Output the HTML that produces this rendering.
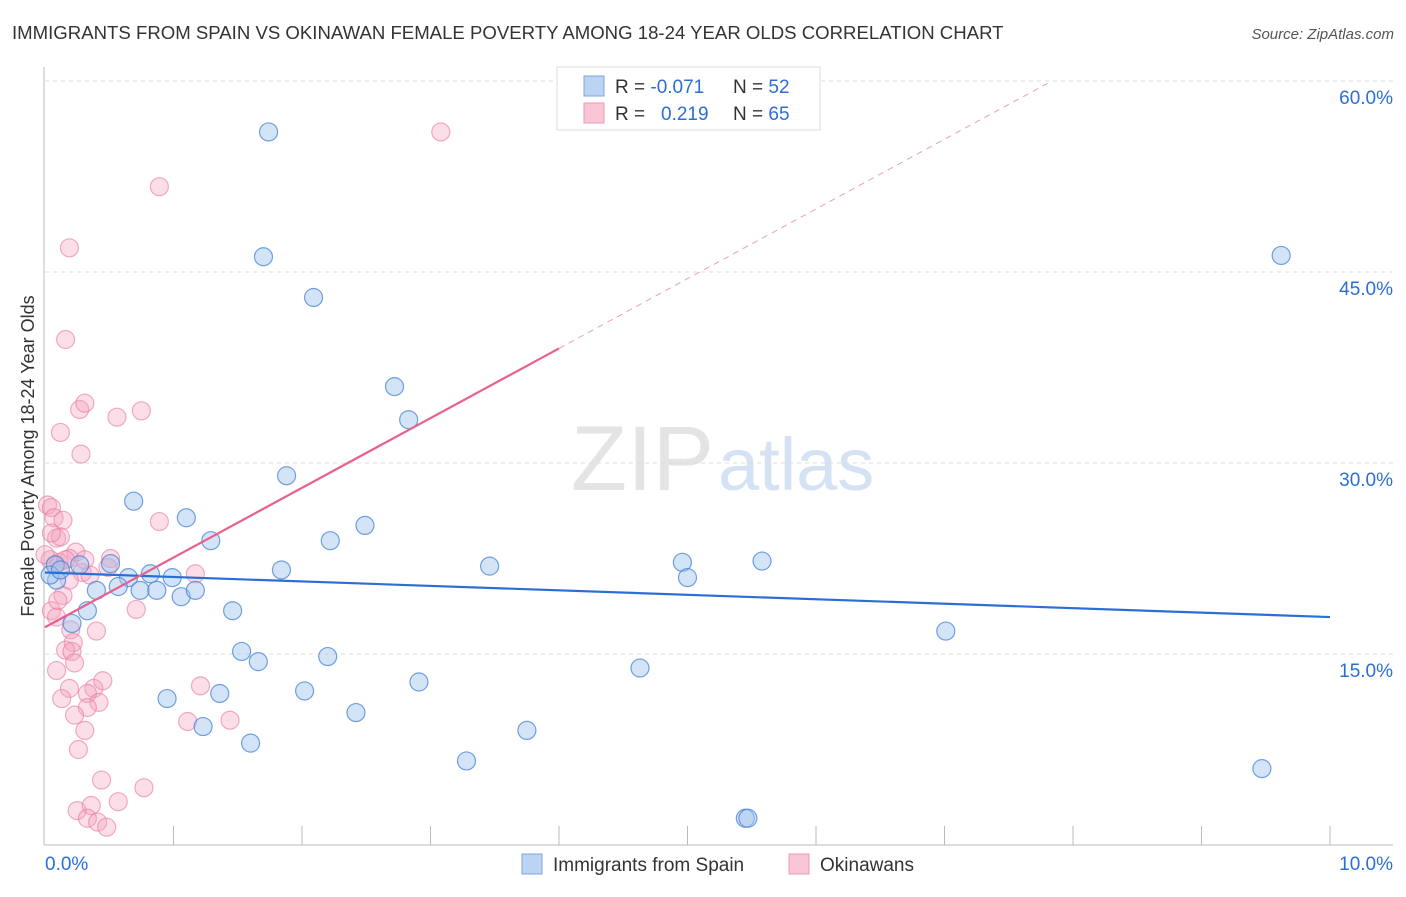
<!DOCTYPE html>
<html><head><meta charset="utf-8"><style>
body{margin:0;background:#fff;font-family:"Liberation Sans",sans-serif;}
svg text{font-family:"Liberation Sans",sans-serif;}
</style></head><body>
<svg id="chart" width="1406" height="892">
<text x="12" y="39" font-size="18.6" fill="#333">IMMIGRANTS FROM SPAIN VS OKINAWAN FEMALE POVERTY AMONG 18-24 YEAR OLDS CORRELATION CHART</text>
<text x="1394" y="39" font-size="15" fill="#555" font-style="italic" text-anchor="end">Source: ZipAtlas.com</text>
<text x="714" y="490" font-size="92" fill="#e4e4e4" text-anchor="end" font-family="Liberation Serif">ZIP</text>
<text x="718" y="490" font-size="74" fill="#d4e2f4">atlas</text>
<g id="grid"></g><g id="axes"></g><g id="marks"></g>
<text transform="translate(34,456) rotate(-90)" font-size="18" fill="#333" text-anchor="middle">Female Poverty Among 18-24 Year Olds</text>
<g>
<rect x="557" y="67" width="263" height="63" fill="#fff" stroke="#ddd"/>
<rect x="584" y="76" width="20" height="20" fill="#bcd4f4" stroke="#7aa6e0"/>
<rect x="584" y="103" width="20" height="20" fill="#f9c6d6" stroke="#ec98b4"/>
<text x="615" y="93" font-size="19" fill="#333">R = <tspan fill="#2b6fd6">-0.071</tspan></text>
<text x="733" y="93" font-size="19" fill="#333">N = <tspan fill="#2b6fd6">52</tspan></text>
<text x="615" y="120" font-size="19" fill="#333">R = <tspan fill="#2b6fd6" x="661">0.219</tspan></text>
<text x="733" y="120" font-size="19" fill="#333">N = <tspan fill="#2b6fd6">65</tspan></text>
</g>
<g>
<rect x="522" y="854" width="20" height="20" fill="#bcd4f4" stroke="#7aa6e0"/>
<text x="553" y="871" font-size="19" fill="#333">Immigrants from Spain</text>
<rect x="789" y="854" width="20" height="20" fill="#f9c6d6" stroke="#ec98b4"/>
<text x="820" y="871" font-size="19" fill="#333">Okinawans</text>
</g>
</svg>
<script>
const yTicks=[15,30,45,60];
const xTickLabels=["0.0%","10.0%"];
const blueX=[1.74,1.70,2.09,9.62,2.72,2.83,1.88,0.69,1.10,2.49,2.22,1.29,0.08,0.27,0.51,0.65,0.82,0.99,0.57,0.40,0.74,0.87,1.06,1.17,1.84,3.46,4.96,5.00,5.58,0.33,0.21,1.46,7.01,1.53,1.66,2.20,4.63,0.95,1.36,2.02,2.91,1.23,2.42,3.75,1.60,3.28,9.47,5.45,5.47,0.09,0.04,0.12];
const blueY=[56.0,46.2,43.0,46.3,36.0,33.4,29.0,27.0,25.7,25.1,23.9,23.9,22.0,22.0,22.1,21.0,21.3,21.0,20.3,20.0,20.0,20.0,19.5,20.0,21.6,21.9,22.2,21.0,22.3,18.4,17.4,18.4,16.8,15.2,14.4,14.8,13.9,11.5,11.9,12.1,12.8,9.3,10.4,9.0,8.0,6.6,6.0,2.1,2.1,20.8,21.2,21.6];
const pinkX=[3.08,0.89,0.19,0.16,0.27,0.31,0.56,0.75,0.12,0.28,0.02,0.05,0.07,0.89,0.09,0.12,0.24,0.19,0.51,0.11,0.04,0.49,0.29,1.17,0.14,0.05,0.71,0.09,0.20,0.40,0.22,0.16,0.21,0.23,0.09,0.19,0.38,0.45,0.33,0.13,0.42,0.33,0.23,1.11,1.44,1.21,0.31,0.26,0.44,0.77,0.25,0.36,0.57,0.33,0.41,0.48,0.08,0.16,0.00,0.05,0.14,0.10,0.31,0.35,0.19];
const pinkY=[56.0,51.7,46.9,39.7,34.2,34.7,33.6,34.1,32.4,30.7,26.7,26.5,25.7,25.4,24.1,24.2,23.0,22.5,22.5,22.2,22.4,21.8,21.4,21.3,19.6,18.4,18.5,17.9,16.9,16.8,15.9,15.3,15.2,14.3,13.7,12.3,12.3,12.9,11.9,11.5,11.2,10.8,10.2,9.7,9.8,12.5,9.0,7.5,5.1,4.5,2.7,3.1,3.4,2.1,1.8,1.4,22.0,22.4,22.8,24.5,25.5,19.2,22.4,21.2,20.8];
const blueTrend=[21.4,17.9];
const pinkTrend=[17.1,39.0];
const pinkSolidEnd=4.0, pinkDashEnd=7.82;

const NS="http://www.w3.org/2000/svg";
const sx=v=>45+v*128.5;
const sy=v=>845-v*12.733;
function mk(tag,attrs,parent){const e=document.createElementNS(NS,tag);for(const k in attrs)e.setAttribute(k,attrs[k]);parent.appendChild(e);return e;}
const grid=document.getElementById('grid'),axes=document.getElementById('axes'),marks=document.getElementById('marks');
yTicks.forEach(t=>{
  const l=mk('line',{x1:45,x2:1393,y1:sy(t),y2:sy(t),stroke:'#ddd','stroke-dasharray':'4,4'},grid);
  
  
  const tx=mk('text',{x:1393,y:sy(t)+23,'font-size':19,fill:'#2b6fd6','text-anchor':'end'},axes);
  tx.textContent=t.toFixed(1)+'%';
  
  
});
const ya=mk('line',{x1:44,x2:44,y1:67,y2:845,stroke:'#bbb'},axes);


const xa=mk('line',{x1:44,x2:1393,y1:845,y2:845,stroke:'#bbb'},axes);


for(let k=1;k<=10;k++){
  const t=mk('line',{x1:sx(k),x2:sx(k),y1:826,y2:845,stroke:'#bbb'},axes);
  
  
}
[[0,'start',45],[10,'end',1393]].forEach((d,i)=>{
  const t=mk('text',{x:d[2],y:870,'font-size':19,fill:'#2b6fd6','text-anchor':d[1]},axes);
  t.textContent=xTickLabels[i];
  
  
});
pinkX.forEach((x,i)=>{
  const c=mk('circle',{cx:sx(x),cy:sy(pinkY[i]),r:9,fill:'rgba(244,160,188,0.35)',stroke:'rgba(232,120,160,0.6)','stroke-width':1.2},marks);
  
  
});
blueX.forEach((x,i)=>{
  const c=mk('circle',{cx:sx(x),cy:sy(blueY[i]),r:9,fill:'rgba(160,196,238,0.45)',stroke:'rgba(70,130,215,0.75)','stroke-width':1.2},marks);
  
  
});
const bl=mk('line',{x1:sx(0),y1:sy(blueTrend[0]),x2:sx(10),y2:sy(blueTrend[1]),stroke:'#2b6fd6','stroke-width':2.2},marks);


const slope=(pinkTrend[1]-pinkTrend[0])/pinkSolidEnd;
const pl=mk('line',{x1:sx(0),y1:sy(pinkTrend[0]),x2:sx(pinkSolidEnd),y2:sy(pinkTrend[1]),stroke:'#e8608e','stroke-width':2.2},marks);


const pd=mk('line',{x1:sx(pinkSolidEnd),y1:sy(pinkTrend[1]),x2:sx(pinkDashEnd),y2:sy(pinkTrend[0]+slope*pinkDashEnd),stroke:'#e8a0b8','stroke-width':1,'stroke-dasharray':'6,5'},marks);


</script>
</body></html>
